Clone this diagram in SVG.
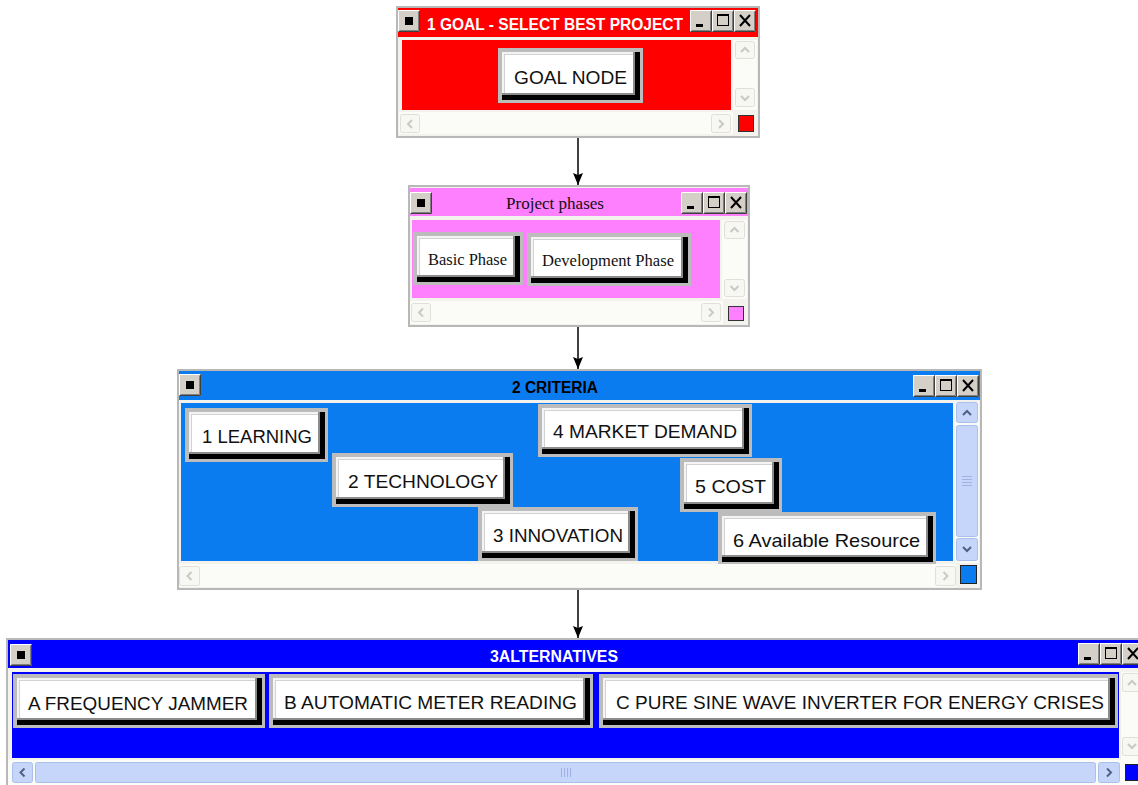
<svg xmlns="http://www.w3.org/2000/svg" width="1138" height="785" viewBox="0 0 1138 785">
<style>
.frame{fill:#f3f2ed;stroke:#b8b8b8;stroke-width:2}
.track{fill:#fbfbf8}
.lbl{font-family:"Liberation Sans",Arial,sans-serif;font-size:19px;fill:#111}
.slbl{font-family:"Liberation Serif","Times New Roman",serif;font-size:16px;fill:#111}
.ttl{font-family:"Liberation Sans",Arial,sans-serif;font-weight:bold;font-size:16px}
.conn{stroke:#000;stroke-width:1.5;fill:none;marker-end:url(#arr)}
.dis{fill:#f7f7f3;stroke:#e0e0d8;stroke-width:1}
.disg{fill:none;stroke:#cacac4;stroke-width:2}
.act{fill:#c6d6fb;stroke:#aabfec;stroke-width:1}
.actg{fill:none;stroke:#4d6185;stroke-width:2}
.grip{stroke:#9fb3e3;stroke-width:1}
.bf{fill:#bcbcbc}
.b0{fill:#000}
.b1{fill:#8c8c8c}
.b2{fill:#f4f4f4}
.b3{fill:#d2d2d2}
.b4{fill:#fff}
</style>
<defs>
<marker id="arr" markerUnits="userSpaceOnUse" markerWidth="12" markerHeight="10" refX="12" refY="5" orient="auto">
<path d="M0,0 L12,5 L0,10 L2,5 z" fill="#000"/>
</marker>
<g id="bev">
<rect width="22" height="22" fill="#d4d0c8"/>
<path d="M0.5 21.5V0.5H21.5" fill="none" stroke="#fff"/>
<path d="M0.5 21.5H21.5V0.5" fill="none" stroke="#404040"/>
<path d="M1.5 20.5H20.5V1.5" fill="none" stroke="#808080"/>
</g>
<g id="bmin"><use href="#bev"/><rect x="6" y="14" width="7" height="3" fill="#000"/></g>
<g id="bmax"><use href="#bev"/><rect x="5.5" y="4.5" width="11" height="11" fill="none" stroke="#000"/><rect x="5" y="4" width="12" height="2" fill="#000"/></g>
<g id="bcls"><use href="#bev"/><path d="M6 5L16 16M16 5L6 16" stroke="#000" stroke-width="2"/></g>
<g id="bsys"><use href="#bev"/><rect x="7" y="7" width="8" height="8" fill="#000"/></g>
</defs>

<g id="connectors">
<line class="conn" x1="578" y1="138" x2="578" y2="185"/>
<line class="conn" x1="578" y1="327" x2="578" y2="369"/>
<line class="conn" x1="578" y1="590" x2="578" y2="638"/>
</g>

<g id="goal">
<rect class="frame" x="397" y="7" width="362" height="130"/>
<rect x="398" y="8" width="360" height="29" fill="#ff0000"/>
<use href="#bsys" x="398" y="10"/>
<use href="#bmin" x="690" y="10"/>
<use href="#bmax" x="712" y="10"/>
<use href="#bcls" x="734" y="10"/>
<text class="ttl" x="427" y="30" fill="#fff" textLength="256" lengthAdjust="spacingAndGlyphs">1 GOAL - SELECT BEST PROJECT</text>
<rect x="402" y="40" width="329" height="70" fill="#ff0000"/>
<rect class="track" x="733" y="40" width="24" height="70"/>
<rect class="dis" x="735.5" y="41.5" width="19" height="17" rx="2"/>
<path class="disg" d="M741 52L745 48L749 52"/>
<rect class="dis" x="735.5" y="88.5" width="19" height="18" rx="2"/>
<path class="disg" d="M741 96L745 100L749 96"/>
<rect class="track" x="399" y="112" width="334" height="22"/>
<rect class="dis" x="400.5" y="114.5" width="19" height="18" rx="2"/>
<path class="disg" d="M412 120L408 124L412 128"/>
<rect class="dis" x="711.5" y="114.5" width="19" height="18" rx="2"/>
<path class="disg" d="M719 120L723 124L719 128"/>
<rect x="738.5" y="115.5" width="15" height="16" fill="#ff0000" stroke="#333"/>
<g id="n-goal">
<rect class="bf" x="498" y="48" width="145" height="55"/>
<rect class="b0" x="502" y="52" width="138" height="48"/>
<rect class="b1" x="502" y="52" width="133" height="43"/>
<rect class="b2" x="502" y="52" width="131" height="41"/>
<rect class="b3" x="504" y="54" width="129" height="39"/>
<rect class="b4" x="505" y="55" width="128" height="38"/>
<text class="lbl" x="514" y="84" textLength="113" lengthAdjust="spacingAndGlyphs">GOAL NODE</text>
</g>
</g>

<g id="phases">
<rect class="frame" x="409" y="186" width="340" height="140"/>
<rect x="410" y="188" width="338" height="28" fill="#ff80ff"/>
<use href="#bsys" x="410" y="192"/>
<use href="#bmin" x="681" y="192"/>
<use href="#bmax" x="703" y="192"/>
<use href="#bcls" x="725" y="192"/>
<text class="slbl" x="506" y="209" style="font-size:17px" textLength="98" lengthAdjust="spacingAndGlyphs">Project phases</text>
<rect x="412" y="220" width="308" height="78" fill="#ff80ff"/>
<rect class="track" x="722" y="220" width="25" height="79"/>
<rect class="dis" x="724.5" y="221.5" width="20" height="17" rx="2"/>
<path class="disg" d="M730.5 232L734.5 228L738.5 232"/>
<rect class="dis" x="724.5" y="279.5" width="20" height="17" rx="2"/>
<path class="disg" d="M730.5 286L734.5 290L738.5 286"/>
<rect class="track" x="410" y="301" width="313" height="23"/>
<rect class="dis" x="411.5" y="303.5" width="19" height="18" rx="2"/>
<path class="disg" d="M423 308.5L419 312.5L423 316.5"/>
<rect class="dis" x="701.5" y="303.5" width="19" height="18" rx="2"/>
<path class="disg" d="M709 308.5L713 312.5L709 316.5"/>
<rect x="728.5" y="306.5" width="15" height="14" fill="#ff80ff" stroke="#333"/>
<g id="n-basic">
<rect class="bf" x="413" y="232" width="110" height="53"/>
<rect class="b0" x="417" y="236" width="103" height="46"/>
<rect class="b1" x="417" y="236" width="98" height="41"/>
<rect class="b2" x="417" y="236" width="96" height="39"/>
<rect class="b3" x="419" y="238" width="94" height="37"/>
<rect class="b4" x="420" y="239" width="93" height="36"/>
<text class="slbl" x="428" y="265" textLength="79" lengthAdjust="spacingAndGlyphs">Basic Phase</text>
</g>
<g id="n-dev">
<rect class="bf" x="527" y="233" width="164" height="53"/>
<rect class="b0" x="531" y="237" width="157" height="46"/>
<rect class="b1" x="531" y="237" width="152" height="41"/>
<rect class="b2" x="531" y="237" width="150" height="39"/>
<rect class="b3" x="533" y="239" width="148" height="37"/>
<rect class="b4" x="534" y="240" width="147" height="36"/>
<text class="slbl" x="542" y="266" textLength="132" lengthAdjust="spacingAndGlyphs">Development Phase</text>
</g>
</g>

<g id="criteria">
<rect class="frame" x="178" y="370" width="803" height="219"/>
<rect x="179" y="371" width="801" height="29" fill="#0a7cf0"/>
<use href="#bsys" x="179" y="374"/>
<use href="#bmin" x="913" y="375"/>
<use href="#bmax" x="935" y="375"/>
<use href="#bcls" x="957" y="375"/>
<text class="ttl" x="512" y="393" fill="#000" textLength="86" lengthAdjust="spacingAndGlyphs">2 CRITERIA</text>
<rect x="181" y="403" width="772" height="158" fill="#0a7cf0"/>
<rect class="track" x="955" y="402" width="24" height="161"/>
<rect class="act" x="956.5" y="402.5" width="21" height="20" rx="2"/>
<path class="actg" d="M963 415L967 411L971 415"/>
<rect class="act" x="956.5" y="425.5" width="21" height="111" rx="2"/>
<path class="grip" d="M962 476.5H972M962 479.5H972M962 482.5H972M962 485.5H972"/>
<rect class="act" x="956.5" y="538.5" width="21" height="22" rx="2"/>
<path class="actg" d="M963 547L967 551L971 547"/>
<rect x="960.5" y="565.5" width="16" height="18" fill="#0a7cf0" stroke="#222"/>
<rect class="track" x="179" y="564" width="777" height="23"/>
<rect class="dis" x="179.5" y="566.5" width="20" height="19" rx="2"/>
<path class="disg" d="M191.5 572L187.5 576L191.5 580"/>
<rect class="dis" x="935.5" y="566.5" width="20" height="19" rx="2"/>
<path class="disg" d="M943.5 572L947.5 576L943.5 580"/>
<g id="n-learning">
<rect class="bf" x="185" y="408" width="143" height="54"/>
<rect class="b0" x="189" y="412" width="136" height="47"/>
<rect class="b1" x="189" y="412" width="131" height="42"/>
<rect class="b2" x="189" y="412" width="129" height="40"/>
<rect class="b3" x="191" y="414" width="127" height="38"/>
<rect class="b4" x="192" y="415" width="126" height="37"/>
<text class="lbl" x="202" y="443" textLength="110" lengthAdjust="spacingAndGlyphs">1 LEARNING</text>
</g>
<g id="n-technology">
<rect class="bf" x="332" y="453" width="181" height="54"/>
<rect class="b0" x="336" y="457" width="174" height="47"/>
<rect class="b1" x="336" y="457" width="169" height="42"/>
<rect class="b2" x="336" y="457" width="167" height="40"/>
<rect class="b3" x="338" y="459" width="165" height="38"/>
<rect class="b4" x="339" y="460" width="164" height="37"/>
<text class="lbl" x="348" y="488" textLength="150" lengthAdjust="spacingAndGlyphs">2 TECHNOLOGY</text>
</g>
<g id="n-innovation">
<rect class="bf" x="478" y="507" width="160" height="54"/>
<rect class="b0" x="482" y="511" width="153" height="47"/>
<rect class="b1" x="482" y="511" width="148" height="42"/>
<rect class="b2" x="482" y="511" width="146" height="40"/>
<rect class="b3" x="484" y="513" width="144" height="38"/>
<rect class="b4" x="485" y="514" width="143" height="37"/>
<text class="lbl" x="493" y="542" textLength="130" lengthAdjust="spacingAndGlyphs">3 INNOVATION</text>
</g>
<g id="n-market">
<rect class="bf" x="538" y="404" width="214" height="53"/>
<rect class="b0" x="542" y="408" width="207" height="46"/>
<rect class="b1" x="542" y="408" width="202" height="41"/>
<rect class="b2" x="542" y="408" width="200" height="39"/>
<rect class="b3" x="544" y="410" width="198" height="37"/>
<rect class="b4" x="545" y="411" width="197" height="36"/>
<text class="lbl" x="553" y="438" textLength="184" lengthAdjust="spacingAndGlyphs">4 MARKET DEMAND</text>
</g>
<g id="n-cost">
<rect class="bf" x="680" y="458" width="102" height="54"/>
<rect class="b0" x="684" y="462" width="95" height="47"/>
<rect class="b1" x="684" y="462" width="90" height="42"/>
<rect class="b2" x="684" y="462" width="88" height="40"/>
<rect class="b3" x="686" y="464" width="86" height="38"/>
<rect class="b4" x="687" y="465" width="85" height="37"/>
<text class="lbl" x="695" y="493" textLength="71" lengthAdjust="spacingAndGlyphs">5 COST</text>
</g>
<g id="n-resource">
<rect class="bf" x="718" y="512" width="218" height="52"/>
<rect class="b0" x="722" y="516" width="211" height="46"/>
<rect class="b1" x="722" y="516" width="206" height="41"/>
<rect class="b2" x="722" y="516" width="204" height="39"/>
<rect class="b3" x="724" y="518" width="202" height="37"/>
<rect class="b4" x="725" y="519" width="201" height="36"/>
<text class="lbl" x="733" y="547" textLength="187" lengthAdjust="spacingAndGlyphs">6 Available Resource</text>
</g>
</g>

<g id="alternatives">
<rect class="frame" x="7" y="639" width="1140" height="150"/>
<rect x="8" y="640" width="1140" height="28" fill="#0000ff"/>
<use href="#bsys" x="10" y="644"/>
<use href="#bmin" x="1078" y="643"/>
<use href="#bmax" x="1100" y="643"/>
<use href="#bcls" x="1122" y="643"/>
<text class="ttl" x="490" y="662" fill="#fff" textLength="128" lengthAdjust="spacingAndGlyphs">3ALTERNATIVES</text>
<rect x="12" y="672" width="1107" height="86" fill="#0000ff"/>
<rect class="track" x="1121" y="672" width="20" height="88"/>
<rect class="dis" x="1122.5" y="673.5" width="20" height="18" rx="2"/>
<path class="disg" d="M1128 685L1132 681L1136 685"/>
<rect class="dis" x="1122.5" y="737.5" width="20" height="18" rx="2"/>
<path class="disg" d="M1128 744L1132 748L1136 744"/>
<rect class="track" x="8" y="760" width="1130" height="25"/>
<rect class="act" x="12.5" y="762.5" width="20" height="20" rx="2"/>
<path class="actg" d="M24.5 768.5L20.5 772.5L24.5 776.5"/>
<rect class="act" x="35.5" y="762.5" width="1060" height="20" rx="2"/>
<path class="grip" d="M561.5 768V777M564.5 768V777M567.5 768V777M570.5 768V777"/>
<rect class="act" x="1098.5" y="762.5" width="21" height="20" rx="2"/>
<path class="actg" d="M1107 768.5L1111 772.5L1107 776.5"/>
<rect x="1125.5" y="764.5" width="15" height="16" fill="#0000ff" stroke="#222"/>
<g id="n-a">
<rect class="bf" x="13" y="674" width="252" height="54"/>
<rect class="b0" x="17" y="678" width="245" height="47"/>
<rect class="b1" x="17" y="678" width="240" height="42"/>
<rect class="b2" x="17" y="678" width="238" height="40"/>
<rect class="b3" x="19" y="680" width="236" height="38"/>
<rect class="b4" x="20" y="681" width="235" height="37"/>
<text class="lbl" x="28" y="710" textLength="220" lengthAdjust="spacingAndGlyphs">A FREQUENCY JAMMER</text>
</g>
<g id="n-b">
<rect class="bf" x="269" y="674" width="324" height="54"/>
<rect class="b0" x="273" y="678" width="317" height="47"/>
<rect class="b1" x="273" y="678" width="312" height="42"/>
<rect class="b2" x="273" y="678" width="310" height="40"/>
<rect class="b3" x="275" y="680" width="308" height="38"/>
<rect class="b4" x="276" y="681" width="307" height="37"/>
<text class="lbl" x="284" y="709" textLength="293" lengthAdjust="spacingAndGlyphs">B AUTOMATIC METER READING</text>
</g>
<g id="n-c">
<rect class="bf" x="599" y="674" width="519" height="54"/>
<rect class="b0" x="603" y="678" width="512" height="47"/>
<rect class="b1" x="603" y="678" width="507" height="42"/>
<rect class="b2" x="603" y="678" width="505" height="40"/>
<rect class="b3" x="605" y="680" width="503" height="38"/>
<rect class="b4" x="606" y="681" width="502" height="37"/>
<text class="lbl" x="616" y="709" textLength="488" lengthAdjust="spacingAndGlyphs">C PURE SINE WAVE INVERTER FOR ENERGY CRISES</text>
</g>
</g>
</svg>
